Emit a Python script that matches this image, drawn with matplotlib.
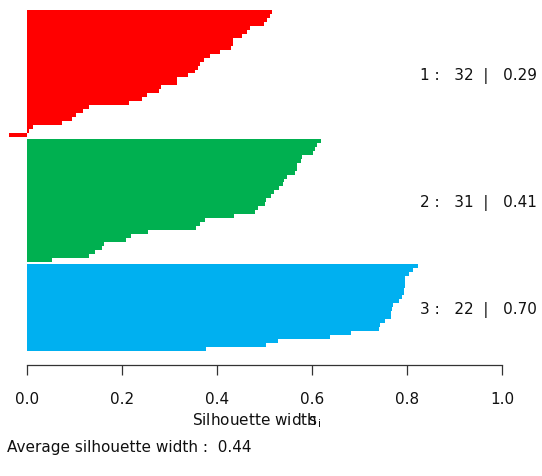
import numpy as np
import matplotlib
matplotlib.use("Agg")
import matplotlib.pyplot as plt

# silhouette widths, sorted high -> low inside each cluster
sil1 = [0.516, 0.511, 0.506, 0.499, 0.469, 0.463, 0.453, 0.433, 0.433, 0.429,
        0.406, 0.385, 0.373, 0.364, 0.361, 0.354, 0.339, 0.315, 0.315, 0.282,
        0.278, 0.253, 0.242, 0.215, 0.131, 0.118, 0.104, 0.095, 0.074, 0.013,
        0.005, -0.037]
sil2 = [0.618, 0.610, 0.607, 0.601, 0.579, 0.577, 0.568, 0.568, 0.565, 0.548,
        0.540, 0.538, 0.531, 0.519, 0.513, 0.502, 0.501, 0.486, 0.479, 0.436,
        0.374, 0.364, 0.355, 0.256, 0.219, 0.208, 0.162, 0.158, 0.144, 0.131,
        0.053]
sil3 = [0.822, 0.813, 0.804, 0.795, 0.795, 0.795, 0.794, 0.793, 0.789, 0.783,
        0.770, 0.768, 0.766, 0.765, 0.753, 0.743, 0.741, 0.682, 0.638, 0.528,
        0.503, 0.377]

clusters = [sil1, sil2, sil3]
cluster_ids = ["1", "2", "3"]
cluster_avg = ["0.29", "0.41", "0.70"]
overall_avg = "0.44"
colors = ["#FF0000", "#00B050", "#00B0F0"]
xticks = [0.0, 0.2, 0.4, 0.6, 0.8, 1.0]

plt.rcParams["font.family"] = "DejaVu Sans"
plt.rcParams["font.size"] = 11
plt.rcParams["mathtext.fontset"] = "dejavusans"

W, H = 542, 476
fig = plt.figure(figsize=(W / 100, H / 100), dpi=100)

gap = 0.5
total = sum(len(c) for c in clusters) + gap * (len(clusters) - 1)
ext = 0.04 * total

# axes placed so the plot region matches the (cropped) R output
ax = fig.add_axes([0, (H - 364.6) / H, 1, (364.6 + 3.6) / H])
ax.set_xlim(-26.7 / 475.7, (W - 26.7) / 475.7)
ax.set_ylim(-ext, total + ext)

top = total
for vals, col, cid, avg in zip(clusters, colors, cluster_ids, cluster_avg):
    n = len(vals)
    y = top - np.arange(n) - 0.5
    ax.barh(y, vals, height=1.0, color=col, edgecolor="none", linewidth=0)
    ax.text(0.827, top - n / 2 - 0.6, f"{cid} :   {n}  |   {avg}",
            ha="left", va="center", color="#111111")
    top -= n + gap

for s in ["top", "right", "left"]:
    ax.spines[s].set_visible(False)
ax.spines["bottom"].set_bounds(0, 1)
ax.spines["bottom"].set_linewidth(0.9)
ax.spines["bottom"].set_color("#333333")
ax.set_yticks([])
ax.set_xticks(xticks)
ax.set_xticklabels([f"{t:.1f}" for t in xticks])
ax.tick_params(axis="x", direction="out", length=7.2, width=0.9,
               color="#333333", pad=12.5, labelcolor="#111111")

# x label: "Silhouette width s_i" (R plotmath draws the s over the h)
fig.text(192 / W, 1 - 425 / H,
         r"Silhouette width$\!\!\!\mathrm{s}_\mathrm{i}$",
         ha="left", va="baseline", color="#111111")

fig.text(7 / W, 1 - 452 / H, f"Average silhouette width :  {overall_avg}",
         ha="left", va="baseline", color="#111111")

fig.savefig("out.png", dpi=100)
